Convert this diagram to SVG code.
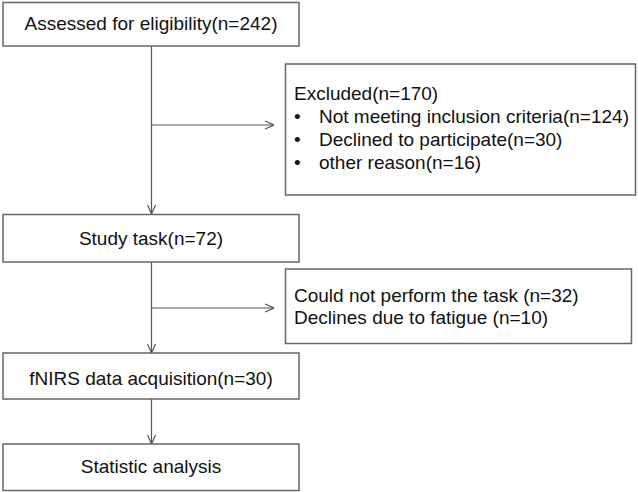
<svg xmlns="http://www.w3.org/2000/svg" width="638" height="492" viewBox="0 0 638 492">
<defs>
<style>
.box{fill:#fff;stroke:#666;stroke-width:1.5}
.t{font-family:"Liberation Sans",Arial,sans-serif;font-size:19px;fill:#111}
.c{text-anchor:middle}
.ln{stroke:#555;stroke-width:1.2;fill:none}
</style>
<marker id="ah" viewBox="0 0 10 10" refX="10" refY="5" markerWidth="10" markerHeight="10" markerUnits="userSpaceOnUse" orient="auto">
<path d="M1,1 L10,5 L1,9" fill="none" stroke="#555" stroke-width="1.2"/>
</marker>
</defs>
<rect width="638" height="492" fill="#fff"/>
<g id="connectors">
<line class="ln" x1="151.5" y1="46" x2="151.5" y2="214" marker-end="url(#ah)"/>
<line class="ln" x1="151.5" y1="125" x2="274" y2="125" marker-end="url(#ah)"/>
<line class="ln" x1="151.5" y1="262" x2="151.5" y2="353" marker-end="url(#ah)"/>
<line class="ln" x1="151.5" y1="308" x2="274" y2="308" marker-end="url(#ah)"/>
<line class="ln" x1="151.5" y1="399" x2="151.5" y2="444" marker-end="url(#ah)"/>
</g>
<g id="assessed">
<rect class="box" x="3" y="2.5" width="296" height="43.5"/>
<text class="t c" x="151" y="30">Assessed for eligibility(n=242)</text>
</g>
<g id="excluded">
<rect class="box" x="285.5" y="64" width="350" height="131"/>
<text class="t" x="294" y="100">Excluded(n=170)</text>
<text class="t" x="294" y="123">•</text><text class="t" x="319" y="123">Not meeting inclusion criteria(n=124)</text>
<text class="t" x="294" y="146">•</text><text class="t" x="319" y="146">Declined to participate(n=30)</text>
<text class="t" x="294" y="169">•</text><text class="t" x="319" y="169">other reason(n=16)</text>
</g>
<g id="study">
<rect class="box" x="3" y="214.5" width="296" height="47.5"/>
<text class="t c" x="151" y="245">Study task(n=72)</text>
</g>
<g id="couldnot">
<rect class="box" x="285.5" y="269" width="346" height="74.5"/>
<text class="t" x="294" y="302">Could not perform the task (n=32)</text>
<text class="t" x="294" y="324">Declines due to fatigue (n=10)</text>
</g>
<g id="fnirs">
<rect class="box" x="3" y="353" width="296" height="46"/>
<text class="t c" x="151" y="385">fNIRS data acquisition(n=30)</text>
</g>
<g id="statistic">
<rect class="box" x="3" y="444" width="296" height="46.5"/>
<text class="t c" x="151" y="473">Statistic analysis</text>
</g>
</svg>
